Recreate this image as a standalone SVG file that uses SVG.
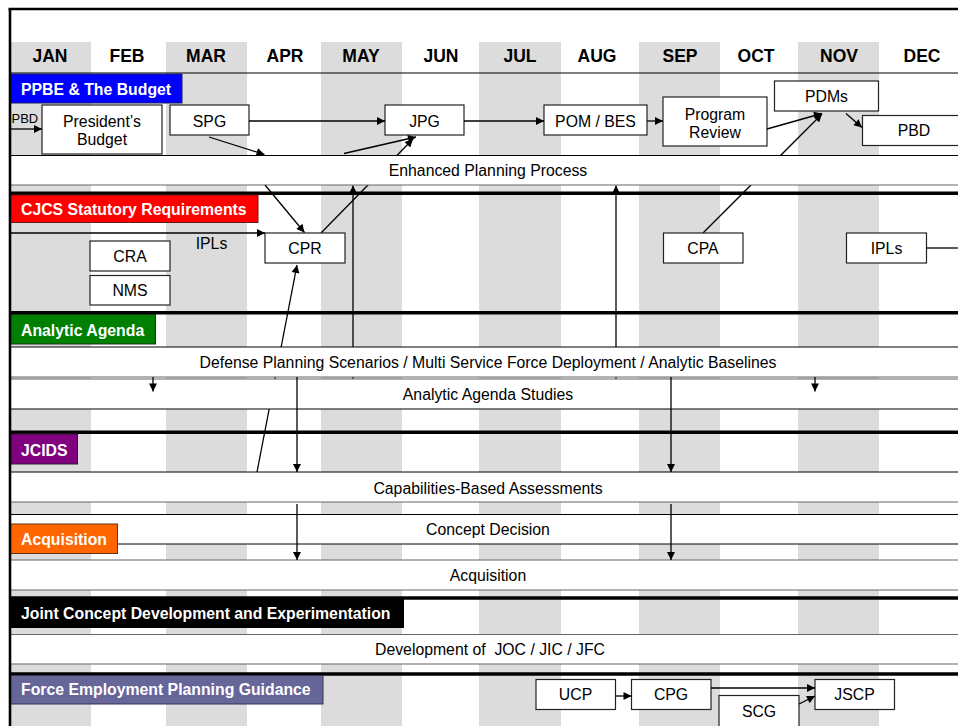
<svg xmlns="http://www.w3.org/2000/svg" width="958" height="726" viewBox="0 0 958 726">
<defs>
<marker id="ah" viewBox="0 0 10 10" refX="10" refY="5" markerWidth="9" markerHeight="8" orient="auto" markerUnits="userSpaceOnUse"><path d="M0,0 L10,5 L0,10 z" fill="#000"/></marker>
<style>
text{font-family:"Liberation Sans",Arial,sans-serif;fill:#000}
.mon{font-size:17.5px;font-weight:bold;text-anchor:middle}
.band{fill:#dcdcdc}
.bar{fill:#fff}
.bt{stroke:#000;stroke-width:1}
.bb{stroke:#666;stroke-width:1.2}
.bt2{font-size:15.8px;text-anchor:middle}
.box{fill:#fff;stroke:#222;stroke-width:1.2}
.lbl{font-size:15.8px;font-weight:bold;fill:#fff}
.thick{stroke:#000;stroke-width:3.6}
.ln{stroke:#000;stroke-width:1.3;fill:none}
.arr{stroke:#000;stroke-width:1.3;fill:none;marker-end:url(#ah)}
</style>
</defs>
<rect x="0" y="0" width="958" height="726" fill="#fff"/>
<g id="bands">
<rect class="band" x="10" y="42" width="81" height="684"/>
<rect class="band" x="166" y="42" width="81" height="684"/>
<rect class="band" x="321" y="42" width="81" height="684"/>
<rect class="band" x="479" y="42" width="82" height="684"/>
<rect class="band" x="639" y="42" width="81" height="684"/>
<rect class="band" x="798" y="42" width="81" height="684"/>
</g>
<g id="months">
<text class="mon" x="50" y="62">JAN</text>
<text class="mon" x="127" y="62">FEB</text>
<text class="mon" x="206" y="62">MAR</text>
<text class="mon" x="285" y="62">APR</text>
<text class="mon" x="361" y="62">MAY</text>
<text class="mon" x="441" y="62">JUN</text>
<text class="mon" x="520" y="62">JUL</text>
<text class="mon" x="597" y="62">AUG</text>
<text class="mon" x="680" y="62">SEP</text>
<text class="mon" x="756" y="62">OCT</text>
<text class="mon" x="839" y="62">NOV</text>
<text class="mon" x="922" y="62">DEC</text>
</g>
<line x1="10" y1="73" x2="958" y2="73" stroke="#000" stroke-width="1.2"/>
<g id="connectors-under">
<line class="arr" x1="321" y1="233" x2="413" y2="139"/>
<line class="arr" x1="703" y1="233" x2="822" y2="114"/>
<line class="arr" x1="257" y1="472" x2="297" y2="265"/>
<line class="arr" x1="353" y1="379" x2="353" y2="185.5"/>
<line class="arr" x1="616" y1="379" x2="616" y2="185.5"/>
</g>
<g id="bars">
<g id="bar-epp"><rect class="bar" x="10" y="155.5" width="948" height="29.5"/><line class="bt" x1="10" y1="155.5" x2="958" y2="155.5"/><line class="bb" x1="10" y1="185" x2="958" y2="185"/><text class="bt2" x="488" y="175.5">Enhanced Planning Process</text></g>
<g id="bar-dps"><rect class="bar" x="10" y="347" width="948" height="30"/><line class="bt" x1="10" y1="347" x2="958" y2="347"/><line class="bb" x1="10" y1="377" x2="958" y2="377"/><text class="bt2" x="488" y="367.5">Defense Planning Scenarios / Multi Service Force Deployment / Analytic Baselines</text></g>
<g id="bar-aas"><rect class="bar" x="10" y="379" width="948" height="30"/><line class="bb" x1="10" y1="379" x2="958" y2="379"/><line class="bt" x1="10" y1="409" x2="958" y2="409"/><text class="bt2" x="488" y="399.5">Analytic Agenda Studies</text></g>
<g id="bar-cba"><rect class="bar" x="10" y="472" width="948" height="30"/><line class="bt" x1="10" y1="472" x2="958" y2="472"/><line class="bb" x1="10" y1="502" x2="958" y2="502"/><text class="bt2" x="488" y="493.5">Capabilities-Based Assessments</text></g>
<g id="bar-cd"><rect class="bar" x="10" y="514.5" width="948" height="29.5"/><line class="bt" x1="10" y1="514.5" x2="958" y2="514.5"/><line class="bt" x1="10" y1="544" x2="958" y2="544"/><text class="bt2" x="488" y="534.5">Concept Decision</text></g>
<g id="bar-acq"><rect class="bar" x="10" y="560" width="948" height="30"/><line class="bb" x1="10" y1="560" x2="958" y2="560"/><line class="bb" x1="10" y1="590" x2="958" y2="590"/><text class="bt2" x="488" y="581">Acquisition</text></g>
<g id="bar-dev"><rect class="bar" x="10" y="634.5" width="948" height="29.5"/><line class="bb" x1="10" y1="634.5" x2="958" y2="634.5"/><line class="bb" x1="10" y1="664" x2="958" y2="664"/><text class="bt2" x="490" y="654.5" xml:space="preserve">Development of  JOC / JIC / JFC</text></g>
</g>
<g id="separators">
<line class="thick" x1="10" y1="193.2" x2="958" y2="193.2"/>
<line class="thick" x1="10" y1="312.7" x2="958" y2="312.7"/>
<line class="thick" x1="10" y1="432.3" x2="958" y2="432.3"/>
<line class="thick" x1="10" y1="598" x2="958" y2="598"/>
<line class="thick" x1="10" y1="674" x2="958" y2="674"/>
</g>
<g id="labels">
<g id="lbl-ppbe"><rect x="10" y="74" width="172" height="29" fill="#0000ff" stroke="#1a1a66" stroke-width="1"/><text class="lbl" x="21" y="94.5">PPBE &amp; The Budget</text></g>
<g id="lbl-cjcs"><rect x="10" y="195" width="248" height="27.5" fill="#ff0000" stroke="#661a1a" stroke-width="1"/><text class="lbl" x="21" y="214.5">CJCS Statutory Requirements</text></g>
<g id="lbl-aa"><rect x="10" y="314.5" width="145.5" height="29.5" fill="#008000" stroke="#1a331a" stroke-width="1"/><text class="lbl" x="21" y="336">Analytic Agenda</text></g>
<g id="lbl-jcids"><rect x="10" y="434" width="67.5" height="30" fill="#800080" stroke="#331a33" stroke-width="1"/><text class="lbl" x="21" y="456">JCIDS</text></g>
<g id="lbl-acq"><rect x="10" y="524" width="107.5" height="29.5" fill="#ff6600" stroke="#663311" stroke-width="1"/><text class="lbl" x="21" y="545">Acquisition</text></g>
<g id="lbl-jcde"><rect x="10" y="598" width="394" height="30" fill="#000"/><text class="lbl" x="21" y="619">Joint Concept Development and Experimentation</text></g>
<g id="lbl-fepg"><rect x="10" y="675.5" width="313" height="28.5" fill="#666699" stroke="#333355" stroke-width="1"/><text class="lbl" x="21" y="695">Force Employment Planning Guidance</text></g>
</g>
<g id="nodes">
<g id="n-pb"><rect class="box" x="42" y="105" width="120" height="49"/><text class="bt2" x="102" y="127">President’s</text><text class="bt2" x="102" y="145">Budget</text></g>
<g id="n-spg"><rect class="box" x="170" y="105" width="79" height="30"/><text class="bt2" x="209.5" y="126.5">SPG</text></g>
<g id="n-jpg"><rect class="box" x="385" y="105" width="79" height="30"/><text class="bt2" x="424.5" y="126.5">JPG</text></g>
<g id="n-pom"><rect class="box" x="544" y="105" width="103" height="30"/><text class="bt2" x="595.5" y="126.5">POM / BES</text></g>
<g id="n-pr"><rect class="box" x="663" y="97" width="104" height="49"/><text class="bt2" x="715" y="119.5">Program</text><text class="bt2" x="715" y="137.5">Review</text></g>
<g id="n-pdms"><rect class="box" x="774.5" y="81" width="104" height="30"/><text class="bt2" x="826.5" y="102">PDMs</text></g>
<g id="n-pbd"><rect class="box" x="862.5" y="115.5" width="100" height="30"/><text class="bt2" x="914" y="136">PBD</text></g>
<g id="n-cra"><rect class="box" x="90" y="241" width="80" height="30"/><text class="bt2" x="130" y="261.5">CRA</text></g>
<g id="n-nms"><rect class="box" x="90" y="275.5" width="80" height="29.5"/><text class="bt2" x="130" y="296">NMS</text></g>
<g id="n-cpr"><rect class="box" x="265" y="233" width="80" height="30"/><text class="bt2" x="305" y="253.5">CPR</text></g>
<g id="n-cpa"><rect class="box" x="663.5" y="233" width="79.5" height="30"/><text class="bt2" x="703" y="253.5">CPA</text></g>
<g id="n-ipls"><rect class="box" x="846.5" y="233" width="80" height="30"/><text class="bt2" x="886.5" y="253.5">IPLs</text></g>
<g id="n-ucp"><rect class="box" x="536" y="679.5" width="79.5" height="30"/><text class="bt2" x="575.5" y="700">UCP</text></g>
<g id="n-cpg"><rect class="box" x="631.5" y="679.5" width="79.5" height="30"/><text class="bt2" x="671" y="700">CPG</text></g>
<g id="n-scg"><rect class="box" x="719" y="695.5" width="80" height="40"/><text class="bt2" x="759" y="717">SCG</text></g>
<g id="n-jscp"><rect class="box" x="815" y="679.5" width="79.5" height="30"/><text class="bt2" x="854.5" y="700">JSCP</text></g>
<text x="11.5" y="123" style="font-size:13px">PBD</text>
<text class="bt2" x="211.5" y="248.5">IPLs</text>
</g>
<g id="connectors">
<line class="arr" x1="10" y1="129" x2="42" y2="129"/>
<line class="arr" x1="249" y1="121" x2="385" y2="121"/>
<line class="arr" x1="464" y1="121" x2="544" y2="121"/>
<line class="arr" x1="647" y1="121" x2="663" y2="121"/>
<line class="arr" x1="767" y1="129" x2="822" y2="113.5"/>
<line class="arr" x1="846" y1="113.5" x2="862" y2="127.5"/>
<line class="arr" x1="209" y1="137" x2="264.5" y2="154.5"/>
<line class="arr" x1="265" y1="185" x2="304.5" y2="232.5"/>
<line class="arr" x1="344" y1="153.5" x2="416" y2="137"/>
<line class="arr" x1="10" y1="233" x2="265" y2="233"/>
<line class="ln" x1="926.5" y1="248" x2="958" y2="248"/>
<line class="arr" x1="297" y1="377" x2="297" y2="472"/>
<line class="arr" x1="671" y1="377" x2="671" y2="472"/>
<line class="arr" x1="297" y1="504" x2="297" y2="560"/>
<line class="arr" x1="671" y1="504" x2="671" y2="560"/>
<line class="arr" x1="153" y1="377" x2="153" y2="391.5"/>
<line class="arr" x1="815" y1="377" x2="815" y2="391.5"/>
<line class="arr" x1="615.5" y1="696" x2="631.5" y2="696"/>
<line class="arr" x1="711" y1="688" x2="815" y2="688"/>
<line class="arr" x1="799" y1="704" x2="815" y2="696"/>
</g>
<g id="frame">
<line x1="8.5" y1="9" x2="958" y2="9" stroke="#000" stroke-width="2.6"/>
<line x1="10" y1="9" x2="10" y2="726" stroke="#000" stroke-width="2.6"/>
</g>
</svg>
